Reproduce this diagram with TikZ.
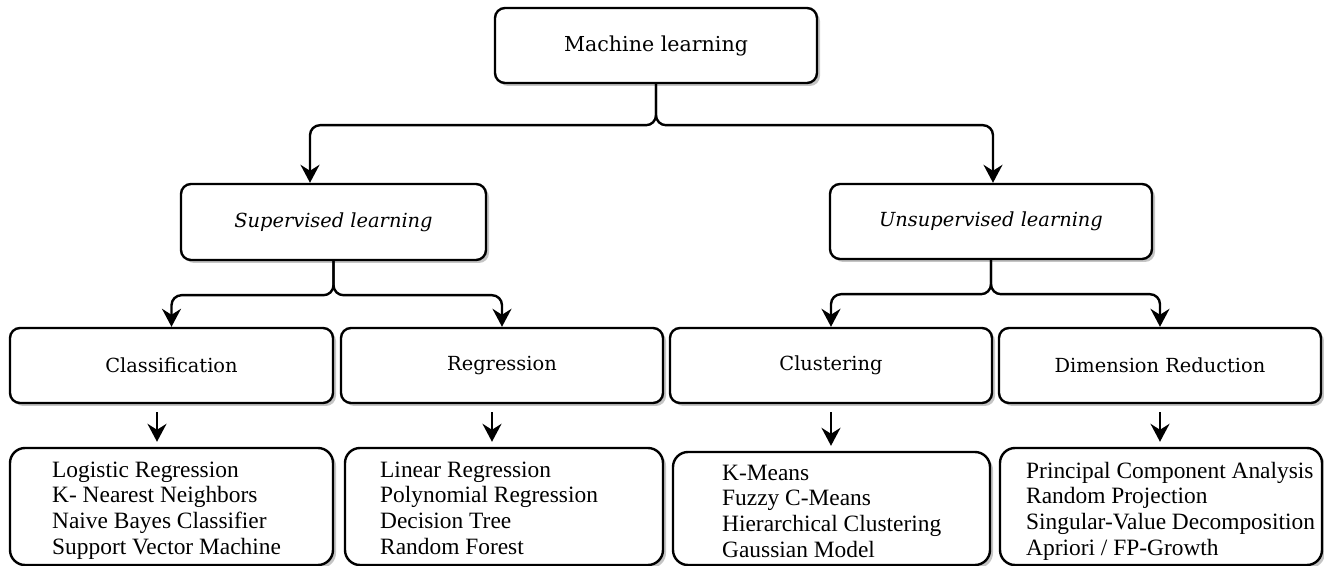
\documentclass[tikz,border=0pt]{standalone}
\usepackage{fontspec}
\setmainfont{Liberation Serif}
\newfontfamily\headfont{DejaVu Serif}
\usetikzlibrary{arrows.meta,positioning,shadows}

\begin{document}
\begin{tikzpicture}[
  x=0.5pt, y=-0.5pt,
  box/.style={draw, line width=1.2pt, rounded corners=5pt, fill=white, align=center,
              inner sep=2pt, minimum height=37.5pt, minimum width=161pt,
              font=\headfont\fontsize{9.7}{12}\selectfont,
              drop shadow={shadow xshift=1.5pt, shadow yshift=-1.5pt, fill=black!45}},
  listbox/.style={box, rounded corners=7.5pt, minimum height=58.5pt},
  listtext/.style={anchor=north west, align=left, inner sep=0pt,
                   font=\fontsize{11.7}{12.85}\selectfont},
  arrow/.style={-{Stealth[length=9pt, width=9.5pt, inset=3pt]}, line width=1.2pt,
                rounded corners=5pt}
]
  \useasboundingbox (0,0) rectangle (1324,566);

  % top levels
  \node[box, font=\headfont\fontsize{10.3}{12}\selectfont] (ml) at (656,45.5) {Machine learning};
  \node[box, minimum width=152.5pt, minimum height=38pt] (sup) at (333.5,222) {\textit{Supervised learning}};
  \node[box] (uns) at (991,221.5) {\textit{Unsupervised learning}};

  % task boxes
  \node[box, minimum width=161.5pt] (cla) at (171.5,365.5) {Classification};
  \node[box] (reg) at (502,365.5) {Regression};
  \node[box] (clu) at (831,365.5) {Clustering};
  \node[box] (dim) at (1160,365.5) {Dimension Reduction};

  % algorithm lists
  \node[listbox, minimum width=161.5pt] (cla-l) at (171.5,506.5) {};
  \node[listbox, minimum width=159pt] (reg-l) at (504,506.5) {};
  \node[listbox, minimum width=158.5pt, minimum height=56.5pt] (clu-l) at (831.5,508.5) {};
  \node[listbox] (dim-l) at (1161,506.5) {};

  \node[listtext] (cla-t) at ([xshift=21.5pt, yshift=-6pt]cla-l.north west)
    {\strut Logistic Regression\\K- Nearest Neighbors\\Naive Bayes Classifier\\Support Vector Machine};
  \node[listtext] (reg-t) at ([xshift=18pt, yshift=-6pt]reg-l.north west)
    {\strut Linear Regression\\Polynomial Regression\\Decision Tree\\Random Forest};
  \node[listtext] (clu-t) at ([xshift=25pt, yshift=-5.5pt]clu-l.north west)
    {\strut K-Means\\Fuzzy C-Means\\Hierarchical Clustering\\Gaussian Model};
  \node[listtext] (dim-t) at ([xshift=13.5pt, yshift=-6.5pt]dim-l.north west)
    {\strut Principal Component Analysis\\Random Projection\\Singular-Value Decomposition\\Apriori / FP-Growth};

  % branches
  \draw[arrow] (ml.south) -- ++(0,41) -| ([xshift=-11.75pt]sup.north);
  \draw[arrow] (ml.south) -- ++(0,41) -| ([xshift=1pt]uns.north);
  \draw[arrow] (sup.south) -- ++(0,34) -| (cla.north);
  \draw[arrow] (sup.south) -- ++(0,34) -| (reg.north);
  \draw[arrow] (uns.south) -- ++(0,34) -| (clu.north);
  \draw[arrow] (uns.south) -- ++(0,34) -| (dim.north);

  % down to the lists
  \draw[arrow, shorten <=4pt, shorten >=2.5pt] ([xshift=-7.25pt]cla.south) -- ([xshift=-7.25pt]cla-l.north);
  \draw[arrow, shorten <=4pt, shorten >=2.5pt] ([xshift=-5pt]reg.south) -- ([xshift=-6pt]reg-l.north);
  \draw[arrow, shorten <=4pt, shorten >=2.5pt] (clu.south) -- ([xshift=-0.25pt]clu-l.north);
  \draw[arrow, shorten <=4pt, shorten >=2.5pt] (dim.south) -- ([xshift=-0.5pt]dim-l.north);
\end{tikzpicture}
\end{document}
